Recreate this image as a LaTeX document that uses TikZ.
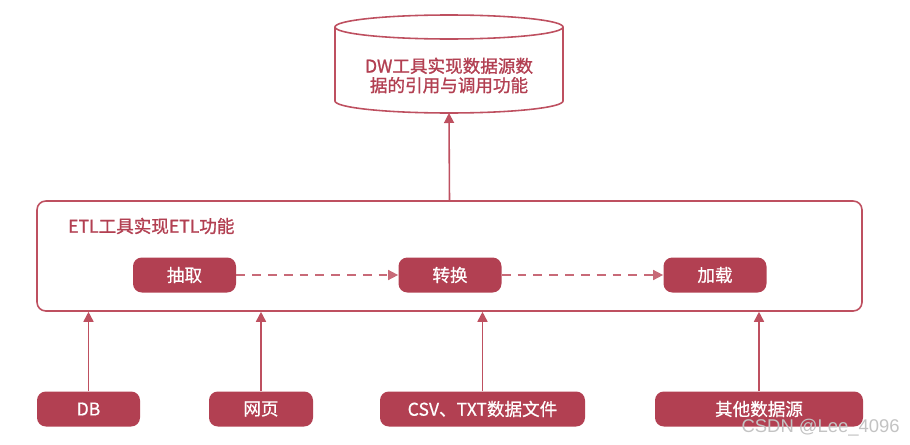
\documentclass[tikz,border=0pt]{standalone}
\usepackage{fontspec}
\setmainfont{Noto Sans CJK SC}
\newfontfamily\tagfont[FakeBold=1.2]{Noto Sans CJK SC}
\newfontfamily\boxfont[FakeBold=0.6]{Noto Sans CJK SC}
\newfontfamily\markfont{Liberation Sans}
\usetikzlibrary{arrows.meta,positioning}
\definecolor{rose}{RGB}{178,64,82}
\definecolor{roseline}{RGB}{190,80,96}
\definecolor{marks}{RGB}{195,195,195}
\tikzset{
  >={Triangle[length=2mm,width=2mm]},
  solid box/.style={fill=#1,text=white,rounded corners=5pt,
    minimum height=7mm,minimum width=20.6mm,align=center,font=\boxfont},
  solid box/.default=rose,
  frame/.style={draw=roseline,line width=0.9pt,rounded corners=5pt},
  flow/.style={->,line width=0.9pt,draw=#1},
  flow/.default=roseline,
  dashflow/.style={->,line width=0.9pt,draw=#1,dash pattern=on 5pt off 4pt},
  dashflow/.default=roseline!85,
  tag/.style={font=\tagfont,text=rose,align=center},
}
\begin{document}
\begin{tikzpicture}
        \useasboundingbox (0,0) rectangle (18.2,8.88);
        % data warehouse
        \draw[frame,rounded corners=0pt] (6.70,8.34) -- (6.70,6.86)
          arc[start angle=180,end angle=360,x radius=2.28cm,y radius=0.24cm] -- (11.26,8.34);
        \draw[frame,rounded corners=0pt] (8.98,8.34) ellipse[x radius=2.28cm,y radius=0.24cm];
        \node[tag] (dw) at (8.98,7.37) {DW工具实现数据源数\\[-1pt]据的引用与调用功能};
        \coordinate (dwbot) at (8.98,6.62);
        % ETL
        \node[frame,minimum width=165mm,minimum height=22mm] (etl) at (8.99,3.76) {};
        \node[tag,anchor=west] (etltag) at (1.24,4.36) {ETL工具实现ETL功能};
        \node[solid box] (ex) at (3.69,3.38) {抽取};
        \node[solid box] (tr) at (9.00,3.38) {转换};
        \node[solid box] (ld) at (14.30,3.38) {加载};
        \draw[dashflow] (ex) -- (tr); \draw[dashflow] (tr) -- (ld);
        \draw[flow] (etl.north) -- (dwbot);
        % sources
        \node[solid box,minimum width=20.6mm] (db) at (1.77,0.70) {DB};
        \node[solid box,minimum width=20.8mm] (web) at (5.22,0.70) {网页};
        \node[solid box,minimum width=41mm] (csv) at (9.65,0.70) {CSV、TXT数据文件};
        \node[solid box,minimum width=41.6mm] (oth) at (15.18,0.70) {其他数据源};
        \foreach \s in {db,web,csv,oth}
          \draw[flow] (\s.north) -- (\s.north |- etl.south);
        \node[font=\markfont\fontsize{10.5}{12}\selectfont,text=marks,anchor=east] (mark) at (18.12,0.32) {CSDN @Lee\_4096};
      \end{tikzpicture}
\end{document}
